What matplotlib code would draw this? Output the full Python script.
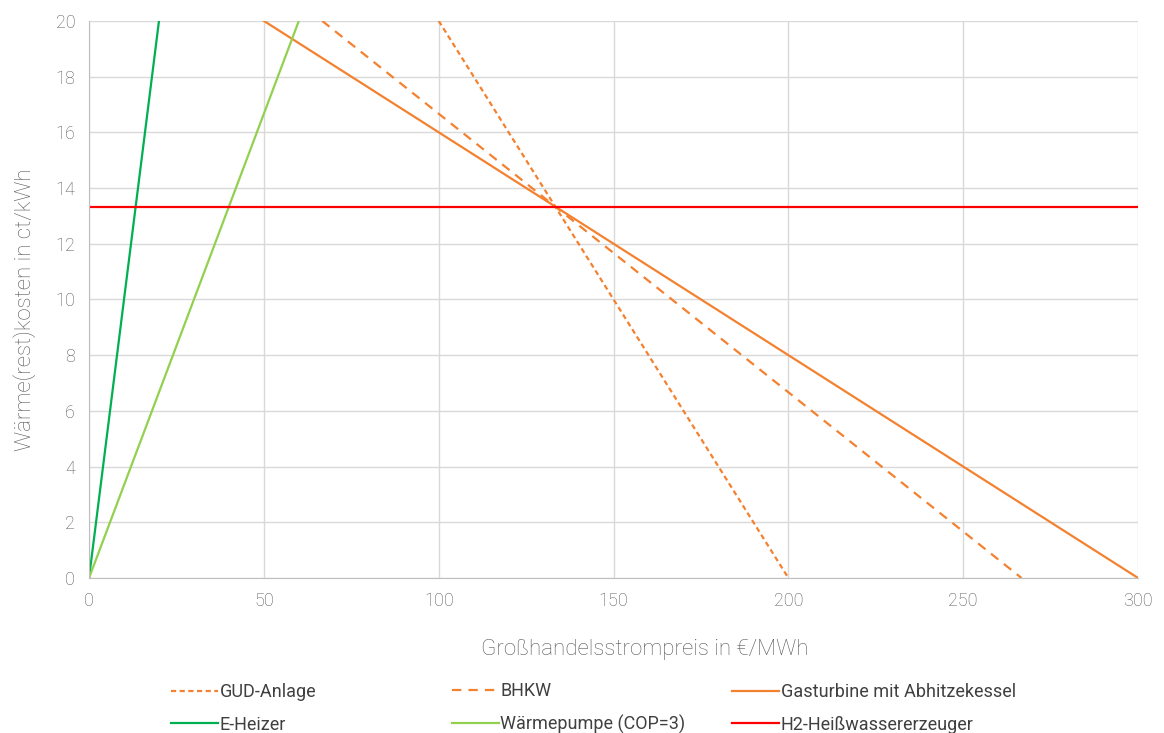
import matplotlib
matplotlib.use('Agg')
import matplotlib.pyplot as plt

# price in EUR/MWh vs heat (rest) cost in ct/kWh, two points per line
gud_x = [100, 200]
gud_y = [20, 0]
bhkw_x = [66.67, 266.67]
bhkw_y = [20, 0]
gt_x = [50, 300]
gt_y = [20, 0]
eheizer_x = [0, 20]
eheizer_y = [0, 20]
wp_x = [0, 60]
wp_y = [0, 20]
h2_x = [0, 300]
h2_y = [13.33, 13.33]

labels = ['GUD-Anlage', 'BHKW', 'Gasturbine mit Abhitzekessel',
          'E-Heizer', 'Wärmepumpe (COP=3)', 'H2-Heißwassererzeuger']

orange = '#F4812F'
gray = '#595959'

plt.rcParams['font.family'] = ['Roboto', 'DejaVu Sans']
plt.rcParams['font.weight'] = 'light'

fig = plt.figure(figsize=(11.64, 7.33), dpi=100)
ax = fig.add_axes([0.0765, 0.2115, 0.9012, 0.760])

lw = 1.6
h = []
h += ax.plot(gud_x, gud_y, color=orange, lw=lw, dashes=(2.3, 1.6))
h += ax.plot(bhkw_x, bhkw_y, color=orange, lw=lw, dashes=(4.2, 3.2))
h += ax.plot(gt_x, gt_y, color=orange, lw=lw)
h += ax.plot(eheizer_x, eheizer_y, color='#00B050', lw=lw)
h += ax.plot(wp_x, wp_y, color='#92D050', lw=lw)
h += ax.plot(h2_x, h2_y, color='#FF0000', lw=lw)

ax.set_xlim(0, 300)
ax.set_ylim(0, 20)
ax.set_xticks(range(0, 301, 50))
ax.set_yticks(range(0, 21, 2))
ax.grid(True, color='#D9D9D9', lw=1.0)
ax.set_axisbelow(True)
for s in ['top', 'right']:
    ax.spines[s].set_visible(False)
for s in ['left', 'bottom']:
    ax.spines[s].set_color('#BFBFBF')
ax.tick_params(length=0, colors=gray, labelsize=13, pad=10)

ax.set_xlabel('Großhandelsstrompreis in €/MWh', fontsize=16, color=gray, weight='light')
ax.set_ylabel('Wärme(rest)kosten in ct/kWh', fontsize=16, color=gray, weight='light')
ax.xaxis.set_label_coords(0.530, -0.109)
ax.yaxis.set_label_coords(-0.051, 0.481)

# one legend per column so the columns sit at fixed places like in the original
col_x = [0.141, 0.382, 0.623]
for i, cx in enumerate(col_x):
    leg = fig.legend([h[i], h[i + 3]], [labels[i], labels[i + 3]],
                     loc='lower left', bbox_to_anchor=(cx - 0.008, -0.023),
                     frameon=False, handlelength=2.6, handletextpad=0.1,
                     labelspacing=0.8,
                     prop={'family': ['Roboto'], 'size': 13, 'weight': 'normal'})
    for t in leg.get_texts():
        t.set_color('#404040')

fig.savefig('out.png', dpi=100)
